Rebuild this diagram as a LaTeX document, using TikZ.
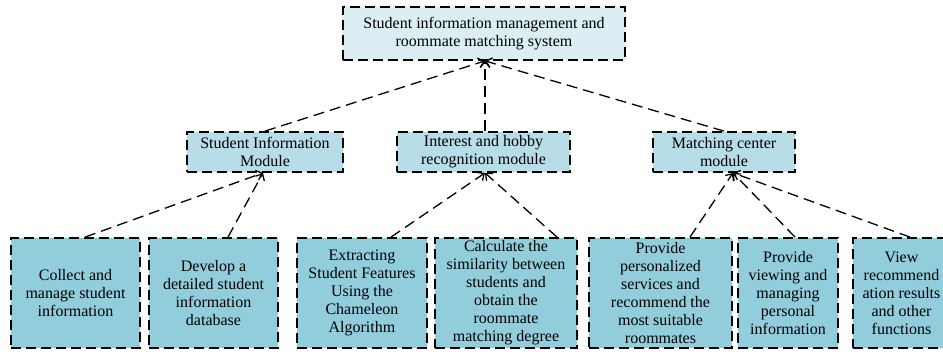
\documentclass[tikz,border=0pt]{standalone}
\usepackage{fontspec}
\setmainfont{Liberation Serif}
\usetikzlibrary{arrows.meta}
\definecolor{topfill}{RGB}{218,238,243}
\definecolor{midfill}{RGB}{183,221,232}
\definecolor{lowfill}{RGB}{146,205,220}
\begin{document}
\begin{tikzpicture}[x=1pt,y=1pt,
 box/.style={draw=black, line width=1.8pt, dash pattern=on 10pt off 5pt, inner sep=0pt, align=center, font=\fontsize{16}{18}\selectfont},
 topbox/.style={box, fill=topfill, minimum width=282pt, minimum height=53pt},
 midbox/.style={box, fill=midfill, minimum height=40pt},
 lowbox/.style={box, fill=lowfill, minimum height=110pt},
 conn/.style={line width=1.3pt, dash pattern=on 11pt off 6pt, -{Straight Barb[length=5.5pt,width=10pt,line width=1.3pt]}},
]
\useasboundingbox (0,0) rectangle (943,351);
\node[topbox] (sys) at (484,317.5) {Student information management and\\roommate matching system};

\node[midbox, minimum width=156pt] (sim) at (265,199) {Student Information\\Module};
\node[midbox, minimum width=173pt] (ihr) at (483.5,199) {Interest and hobby\\recognition module};
\node[midbox, minimum width=142pt] (mcm) at (724,199) {Matching center\\module};

\node[lowbox, minimum width=129pt] (b1) at (75.5,58) {Collect and\\manage student\\information};
\node[lowbox, minimum width=129pt] (b2) at (213.5,58) {Develop a\\detailed student\\information\\database};
\node[lowbox, minimum width=130pt] (b3) at (362,58) {Extracting\\Student Features\\Using the\\Chameleon\\Algorithm};
\node[lowbox, minimum width=142pt] (b4) at (506,58) {Calculate the\\similarity between\\students and\\obtain the\\roommate\\matching degree};
\node[lowbox, minimum width=143pt] (b5) at (660.5,58) {Provide\\personalized\\services and\\recommend the\\most suitable\\roommates};
\node[lowbox, minimum width=100pt] (b6) at (788,58) {Provide\\viewing and\\managing\\personal\\information};
\node[lowbox, minimum width=97pt] (b7) at (901.5,58) {View\\recommend\\ation results\\and other\\functions};

\draw[conn] (sim.north) -- ([xshift=1pt]sys.south);
\draw[conn] ([xshift=1.5pt]ihr.north) -- ([xshift=1pt]sys.south);
\draw[conn] (mcm.north) -- ([xshift=1pt]sys.south);

\draw[conn] ([xshift=9.5pt]b1.north) -- ([xshift=-2pt]sim.south);
\draw[conn] ([xshift=14.5pt]b2.north) -- ([xshift=-2pt]sim.south);
\draw[conn] ([xshift=29pt]b3.north) -- ([xshift=1.5pt]ihr.south);
\draw[conn] ([xshift=51pt]b4.north) -- ([xshift=1.5pt]ihr.south);
\draw[conn] ([xshift=29.5pt]b5.north) -- ([xshift=9pt]mcm.south);
\draw[conn] ([xshift=7pt]b6.north) -- ([xshift=9pt]mcm.south);
\draw[conn] ([xshift=8.5pt]b7.north) -- ([xshift=9pt]mcm.south);
\end{tikzpicture}
\end{document}
